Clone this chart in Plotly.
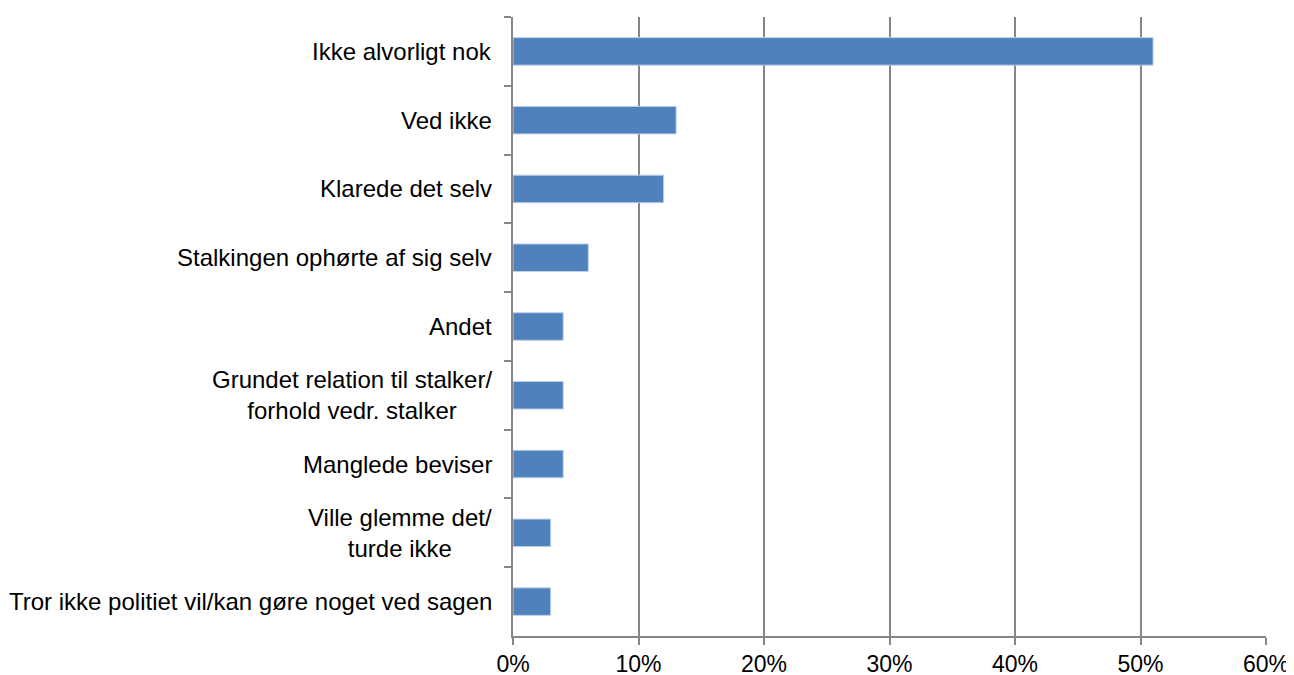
import plotly.graph_objects as go

categories = [
    "Ikke alvorligt nok",
    "Ved ikke",
    "Klarede det selv",
    "Stalkingen ophørte af sig selv",
    "Andet",
    "Grundet relation til stalker/<br>forhold vedr. stalker",
    "Manglede beviser",
    "Ville glemme det/<br>turde ikke",
    "Tror ikke politiet vil/kan gøre noget ved sagen",
]
values = [0.51, 0.13, 0.12, 0.06, 0.04, 0.04, 0.04, 0.03, 0.03]
x_tick_values = [0, 0.1, 0.2, 0.3, 0.4, 0.5, 0.6]
x_tick_labels = ["0%", "10%", "20%", "30%", "40%", "50%", "60%"]

FONT = "Liberation Sans, Arial, sans-serif"
AXIS_COLOR = "#868686"

fig = go.Figure(
    go.Bar(
        x=values,
        y=categories,
        orientation="h",
        marker=dict(color="#4F81BD", line=dict(color="#BCCFE6", width=1)),
        width=0.4,
        hoverinfo="x+y",
    )
)

for cat in categories:
    fig.add_annotation(
        x=0, xref="paper", y=cat, yref="y",
        text=cat, showarrow=False,
        xanchor="right", yanchor="middle", align="center",
        xshift=-19,
        font=dict(family=FONT, size=24, color="#000000"),
    )

# The page body has an 8px margin, so the figure is sized/offset to fit the 1294x675 window.
fig.update_layout(
    width=1286, height=667,
    margin=dict(l=505, r=28, t=9, b=39, autoexpand=False),
    paper_bgcolor="white", plot_bgcolor="white",
    showlegend=False,
    font=dict(family=FONT, size=24, color="#000000"),
    xaxis=dict(
        range=[0, 0.6],
        tickvals=x_tick_values, ticktext=x_tick_labels,
        showgrid=True, gridcolor=AXIS_COLOR, gridwidth=1.5,
        showline=True, linecolor=AXIS_COLOR, linewidth=1.5,
        ticks="outside", ticklen=7, tickcolor=AXIS_COLOR, tickwidth=1.5,
        zeroline=False, automargin=False,
        tickfont=dict(family=FONT, size=23, color="#000000"),
    ),
    yaxis=dict(
        type="category",
        categoryorder="array", categoryarray=categories,
        autorange="reversed",
        showticklabels=False,
        showgrid=False,
        showline=True, linecolor=AXIS_COLOR, linewidth=1.5,
        ticks="outside", ticklen=7, tickcolor=AXIS_COLOR, tickwidth=1.5,
        tickson="boundaries",
        zeroline=False, automargin=False,
    ),
)

fig.write_html("out.html")
